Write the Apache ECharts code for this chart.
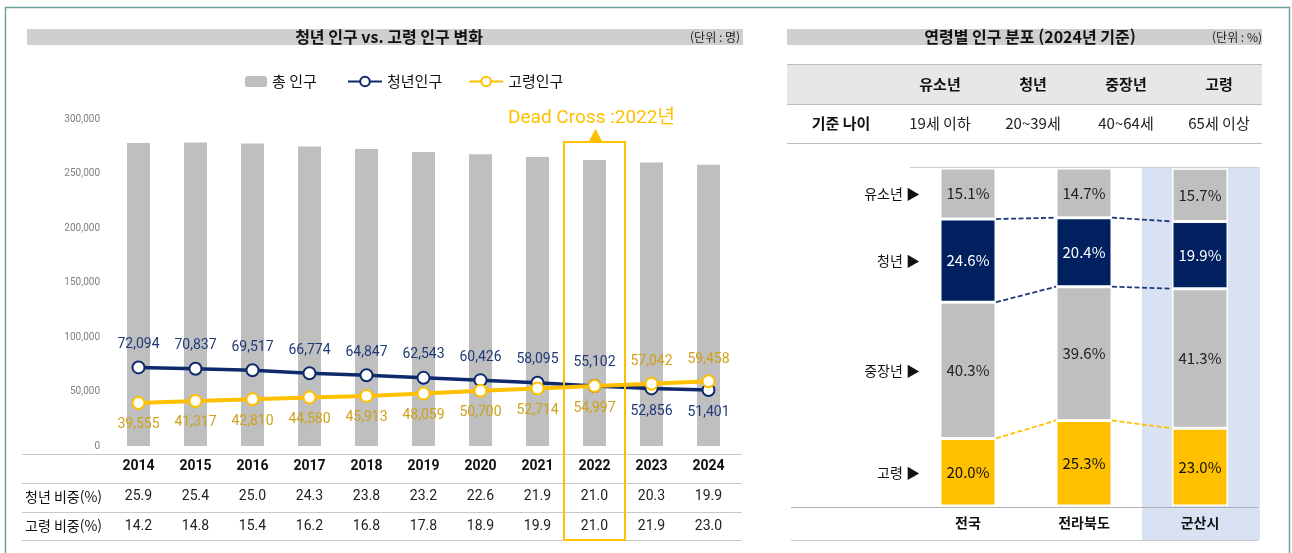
<!DOCTYPE html>
<html lang="ko">
<head>
<meta charset="utf-8">
<title>청년 인구 vs. 고령 인구 변화</title>
<script src="https://cdn.jsdelivr.net/npm/echarts@6/dist/echarts.min.js"></script>
<style>
  html, body { margin: 0; padding: 0; background: #fff; }
  #chart { width: 1292px; height: 553px; }
</style>
</head>
<body>
<div id="chart"></div>
<script>
/* ================= 데이터 ================= */
const years = ['2014', '2015', '2016', '2017', '2018', '2019', '2020', '2021', '2022', '2023', '2024'];
const totalPop = [278000, 278500, 277500, 274700, 272500, 269700, 267600, 265100, 262400, 260000, 258000];
const youthPop = [72094, 70837, 69517, 66774, 64847, 62543, 60426, 58095, 55102, 52856, 51401];
const elderPop = [39555, 41317, 42810, 44580, 45913, 48059, 50700, 52714, 54997, 57042, 59458];
const youthRatio = ['25.9', '25.4', '25.0', '24.3', '23.8', '23.2', '22.6', '21.9', '21.0', '20.3', '19.9'];
const elderRatio = ['14.2', '14.8', '15.4', '16.2', '16.8', '17.8', '18.9', '19.9', '21.0', '21.9', '23.0'];
const crossYear = '2022';

const regions = ['전국', '전라북도', '군산시'];
const ageGroups = ['유소년', '청년', '중장년', '고령'];
const ageRanges = ['19세 이하', '20~39세', '40~64세', '65세 이상'];
const childShare = [15.1, 14.7, 15.7];
const youthShare = [24.6, 20.4, 19.9];
const middleShare = [40.3, 39.6, 41.3];
const elderShare = [20.0, 25.3, 23.0];
const highlightRegion = '군산시';

/* ================= 색상 ================= */
const NAVY = '#0f2a6b';
const YELLOW = '#ffc000';
const GRAY = '#bfbfbf';
const KR = "'Noto Sans CJK KR', 'Noto Sans', sans-serif";
const NUM = "Roboto, 'Noto Sans CJK KR', sans-serif";

const chart = echarts.init(document.getElementById('chart'));
const crossIdx = years.indexOf(crossYear);

/* 라벨 위치: 교차 이후에는 위/아래가 바뀜 */
const youthData = youthPop.map((v, i) => ({
  value: v,
  label: { position: i > crossIdx ? 'bottom' : 'top' },
}));
const elderData = elderPop.map((v, i) => ({
  value: v,
  label: { position: i > crossIdx ? 'top' : 'bottom' },
}));

const shareLabel = (color) => ({
  show: true,
  position: 'inside',
  fontFamily: KR,
  fontSize: 15,
  color: color,
  formatter: (p) => p.value.toFixed(1) + '%',
});

const shareSeries = (name, data, color, labelColor) => ({
  name: name,
  type: 'bar',
  stack: 'share',
  xAxisIndex: 3,
  yAxisIndex: 1,
  barWidth: 56,
  data: data,
  itemStyle: { color: color, borderColor: '#fff', borderWidth: 1.5 },
  label: shareLabel(labelColor),
  z: 3,
});

chart.setOption({
  animation: false,
  textStyle: { fontFamily: KR },
  legend: [
    {
      left: 240, top: 69,
      itemWidth: 22, itemHeight: 11,
      data: ['총 인구'],
      textStyle: { fontSize: 15, color: '#111', fontFamily: KR },
    },
    {
      left: 342, top: 69,
      itemWidth: 34, itemHeight: 12, itemGap: 26,
      data: ['청년인구', '고령인구'],
      textStyle: { fontSize: 15, color: '#111', fontFamily: KR },
    },
  ],
  grid: [
    { left: 110, top: 119, width: 627, height: 327 },
    { left: 910, top: 168, width: 348, height: 338 },
  ],
  xAxis: [
    {
      type: 'category', gridIndex: 0, data: years,
      axisLine: { show: false }, axisTick: { show: false },
      axisLabel: { interval: 0, margin: 14, fontFamily: NUM, fontWeight: 'bold', fontSize: 14, color: '#111' },
    },
    {
      type: 'category', gridIndex: 0, position: 'bottom', offset: 30, data: youthRatio,
      axisLine: { show: false }, axisTick: { show: false },
      axisLabel: { interval: 0, margin: 14, fontFamily: NUM, fontSize: 14, color: '#222' },
    },
    {
      type: 'category', gridIndex: 0, position: 'bottom', offset: 59, data: elderRatio,
      axisLine: { show: false }, axisTick: { show: false },
      axisLabel: { interval: 0, margin: 14, fontFamily: NUM, fontSize: 14, color: '#222' },
    },
    {
      type: 'category', gridIndex: 1, data: regions,
      axisLine: { show: false }, axisTick: { show: false },
      axisLabel: { interval: 0, margin: 10, fontFamily: KR, fontWeight: 'bold', fontSize: 14, color: '#111' },
    },
  ],
  yAxis: [
    {
      type: 'value', gridIndex: 0, min: 0, max: 300000, interval: 50000,
      axisLine: { show: false }, axisTick: { show: false }, splitLine: { show: false },
      axisLabel: {
        margin: 10, fontFamily: NUM, fontSize: 10, color: '#808080',
        formatter: (v) => v.toLocaleString('en-US'),
      },
    },
    { type: 'value', gridIndex: 1, min: 0, max: 100, show: false },
  ],
  series: [
    {
      name: '총 인구', type: 'bar', xAxisIndex: 0, yAxisIndex: 0,
      barWidth: 23, data: totalPop,
      itemStyle: { color: GRAY },
    },
    {
      name: '청년인구', type: 'line', xAxisIndex: 0, yAxisIndex: 0,
      data: youthData,
      symbol: 'emptyCircle', symbolSize: 12,
      itemStyle: { color: NAVY, borderWidth: 1.5 },
      lineStyle: { color: NAVY, width: 3.5 },
      label: {
        show: true, distance: 9, fontFamily: NUM, fontSize: 14, color: '#1f3a78',
        formatter: (p) => p.value.toLocaleString('en-US'),
      },
      z: 4,
    },
    {
      name: '고령인구', type: 'line', xAxisIndex: 0, yAxisIndex: 0,
      data: elderData,
      symbol: 'emptyCircle', symbolSize: 12,
      itemStyle: { color: YELLOW, borderWidth: 1.5 },
      lineStyle: { color: YELLOW, width: 4 },
      label: {
        show: true, distance: 8, fontFamily: NUM, fontSize: 14, color: '#cfa21a',
        formatter: (p) => p.value.toLocaleString('en-US'),
      },
      z: 5,
    },
    shareSeries('고령', elderShare, YELLOW, '#111'),
    shareSeries('중장년', middleShare, GRAY, '#222'),
    shareSeries('청년', youthShare, '#002060', '#fff'),
    shareSeries('유소년', childShare, GRAY, '#222'),
  ],
});

/* ================= 표 / 주석 (축 좌표 기준) ================= */
const gx = (v) => chart.convertToPixel({ xAxisIndex: 0 }, v);
const rx = (v) => chart.convertToPixel({ xAxisIndex: 3 }, v);
const ry = (v) => chart.convertToPixel({ yAxisIndex: 1 }, v);

const hline = (x1, x2, y, color, width) => ({
  type: 'line', z: 1,
  shape: { x1: x1, y1: y, x2: x2, y2: y },
  style: { stroke: color || '#c8c8c8', lineWidth: width || 1 },
});
const txt = (x, y, text, opt) => ({
  type: 'text', z: 6, x: x, y: y,
  style: Object.assign({
    text: text, fill: '#111', fontFamily: KR, fontSize: 14,
    align: 'center', verticalAlign: 'middle',
  }, opt || {}),
});

const g = [];

// 외곽 테두리
g.push({ type: 'rect', z: 0, shape: { x: 5.5, y: 7.5, width: 1284, height: 600 },
  style: { fill: 'none', stroke: '#6aa39c', lineWidth: 1.5 } });

// 제목 바
g.push({ type: 'rect', z: 0, shape: { x: 27, y: 29, width: 716, height: 16 }, style: { fill: '#d0cfcf' } });
g.push(txt(389, 37, '청년 인구 vs. 고령 인구 변화', { fontWeight: 'bold', fontSize: 16 }));
g.push(txt(740, 37, '(단위 : 명)', { fontSize: 12, align: 'right', fill: '#222' }));
g.push({ type: 'rect', z: 0, shape: { x: 787, y: 29, width: 475, height: 16 }, style: { fill: '#d0cfcf' } });
g.push(txt(1030, 37, '연령별 인구 분포 (2024년 기준)', { fontWeight: 'bold', fontSize: 16 }));
g.push(txt(1262, 37, '(단위 : %)', { fontSize: 12, align: 'right', fill: '#222' }));

// 왼쪽 표 선과 행 제목
[454, 483, 512, 540].forEach((y) => g.push(hline(22, 742, y + 0.5, '#c8c8c8')));
g.push(txt(25, 497, '청년 비중(%)', { align: 'left' }));
g.push(txt(25, 526, '고령 비중(%)', { align: 'left' }));

// Dead Cross 강조
const cx = gx(crossYear);
g.push({ type: 'rect', z: 6, shape: { x: cx - 30.5, y: 142, width: 61, height: 398 },
  style: { fill: 'none', stroke: YELLOW, lineWidth: 2 } });
g.push({ type: 'polygon', z: 6, shape: { points: [[cx - 6, 142], [cx + 8, 142], [cx + 1, 129]] },
  style: { fill: YELLOW } });
g.push(txt(cx - 3, 118, 'Dead Cross :' + crossYear + '년', { fill: YELLOW, fontFamily: NUM, fontSize: 19 }));

// 오른쪽 기준 표
g.push({ type: 'rect', z: 0, shape: { x: 787, y: 64, width: 475, height: 40 }, style: { fill: '#e7e7e7' } });
[64, 104, 143].forEach((y) => g.push(hline(787, 1262, y + 0.5, '#bdbdbd', 1.2)));
const colX = [940, 1033, 1126, 1219];
ageGroups.forEach((t, i) => g.push(txt(colX[i], 84, t, { fontWeight: 'bold', fontSize: 15 })));
g.push(txt(841, 123, '기준 나이', { fontWeight: 'bold', fontSize: 15 }));
ageRanges.forEach((t, i) => g.push(txt(colX[i], 123, t, { fontSize: 15, fill: '#222' })));

// 군산시 강조 배경
const cats = regions.map((r) => rx(r));
const band = cats[1] - cats[0];
const hx = rx(highlightRegion);
g.push({ type: 'rect', z: 0, shape: { x: hx - band / 2, y: 167, width: band + 2, height: 373 },
  style: { fill: '#d9e2f3' } });
g.push(hline(910, 1258, 167.5, '#cfcfcf'));
g.push(hline(791, 1258, 507.5, '#b0b0b0', 1.2));
g.push(hline(791, 1258, 540.5, '#c8c8c8', 1.2));

// 연결 점선
const half = 28;
const youthTop = regions.map((_, i) => elderShare[i] + middleShare[i] + youthShare[i]);
const youthBottom = regions.map((_, i) => elderShare[i] + middleShare[i]);
const elderTop = elderShare.slice();
const dashLinks = (vals, color) => {
  for (let i = 0; i < regions.length - 1; i++) {
    g.push({
      type: 'line', z: 6,
      shape: { x1: cats[i] + half, y1: ry(vals[i]), x2: cats[i + 1] - half, y2: ry(vals[i + 1]) },
      style: { stroke: color, lineWidth: 1.8, lineDash: [5, 2.5] },
    });
  }
};
dashLinks(youthTop, '#1f3a78');
dashLinks(youthBottom, '#1f3a78');
dashLinks(elderTop, YELLOW);

// 연령 구간 이름 (전국 막대 기준)
const mids = [
  elderShare[0] + middleShare[0] + youthShare[0] + childShare[0] / 2,
  elderShare[0] + middleShare[0] + youthShare[0] / 2,
  elderShare[0] + middleShare[0] / 2,
  elderShare[0] / 2,
];
ageGroups.forEach((t, i) => g.push(txt(920, ry(mids[i]), t + ' ▶', { align: 'right', fontSize: 14 })));

chart.setOption({ graphic: { elements: g } });
</script>
</body>
</html>
